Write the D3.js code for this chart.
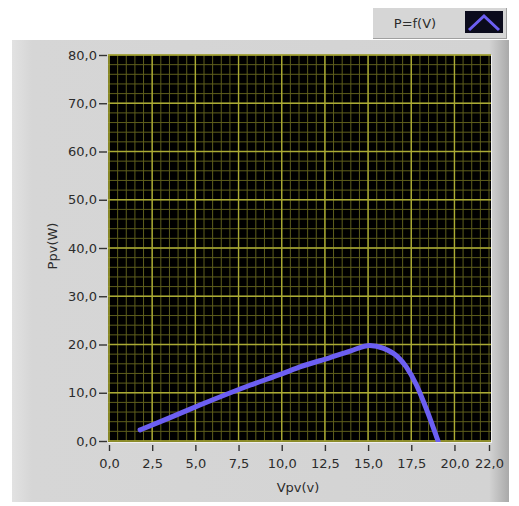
<!DOCTYPE html>
<html>
<head>
<meta charset="utf-8">
<script src="https://cdn.jsdelivr.net/npm/d3@7"></script>
<style>
  html, body { margin: 0; padding: 0; background: #ffffff; }
  svg { display: block; }
  text { font-family: "DejaVu Sans", Verdana, sans-serif; fill: #2c2c2c; }
</style>
</head>
<body>
<svg id="chart" width="519" height="506"></svg>
<script>
// PV panel power curve P = f(V)
const voltage = [1.8, 3.5, 5.3, 8.2, 10.0, 11.1, 12.8, 14.0, 15.1, 15.9, 16.7, 17.2, 17.8, 18.4, 19.05];
const power   = [2.3, 4.8, 7.5, 11.6, 13.9, 15.4, 17.3, 18.7, 19.8, 19.2, 17.5, 15.4, 11.6, 6.4, 0.0];

const xTicks = [0, 2.5, 5, 7.5, 10, 12.5, 15, 17.5, 20, 22];
const yTicks = [0, 10, 20, 30, 40, 50, 60, 70, 80];
const seriesName = "P=f(V)";
const xTitle = "Vpv(v)";
const yTitle = "Ppv(W)";

const svg = d3.select("#chart");
const defs = svg.append("defs");

// panel shading: light left edge, darker shadow on the right
const grad = defs.append("linearGradient").attr("id", "panelGrad")
  .attr("x1", "0").attr("x2", "1").attr("y1", "0").attr("y2", "0");
grad.append("stop").attr("offset", "0%").attr("stop-color", "#e2e2e2");
grad.append("stop").attr("offset", "4%").attr("stop-color", "#d6d6d6");
grad.append("stop").attr("offset", "96%").attr("stop-color", "#d3d3d3");
grad.append("stop").attr("offset", "100%").attr("stop-color", "#a9a9a9");

svg.append("rect").attr("x", 12).attr("y", 40).attr("width", 497).attr("height", 462)
  .attr("fill", "url(#panelGrad)");

// legend box
const lg = svg.append("g");
lg.append("rect").attr("x", 373).attr("y", 8).attr("width", 134).attr("height", 31)
  .attr("fill", "#d6d6d6");
lg.append("line").attr("x1", 373).attr("x2", 507).attr("y1", 38.5).attr("y2", 38.5)
  .attr("stroke", "#a0a0a0");
lg.append("line").attr("x1", 506.5).attr("x2", 506.5).attr("y1", 8).attr("y2", 39)
  .attr("stroke", "#a0a0a0");
lg.append("text").attr("x", 415).attr("y", 28).attr("text-anchor", "middle")
  .attr("font-size", 13).text(seriesName);
lg.append("rect").attr("x", 465).attr("y", 11).attr("width", 38).attr("height", 22)
  .attr("fill", "#0b0b1c");

const margin = { left: 109, right: 489, top: 55, bottom: 441 };
const x = d3.scaleLinear().domain([0, 22]).range([margin.left, margin.right]);
const y = d3.scaleLinear().domain([0, 80]).range([margin.bottom, margin.top]);

// legend swatch drawn as a small chevron of the series line
lg.append("path")
  .attr("d", d3.line()([[469, 30], [484, 16], [499, 30]]))
  .attr("fill", "none").attr("stroke", "#6c5ff2").attr("stroke-width", 3);

// plot background
svg.append("rect").attr("x", 108).attr("y", 55).attr("width", 383).attr("height", 387)
  .attr("fill", "#000000");

// minor grid
const gridG = svg.append("g");
const xMinor = d3.range(0, 22.001, 0.5);
const yMinor = d3.range(0, 80.001, 2);
gridG.selectAll("line.xm").data(xMinor).join("line")
  .attr("x1", d => x(d)).attr("x2", d => x(d))
  .attr("y1", margin.top).attr("y2", margin.bottom)
  .attr("stroke", "#5e5e1c").attr("stroke-width", 1);
gridG.selectAll("line.ym").data(yMinor).join("line")
  .attr("y1", d => y(d)).attr("y2", d => y(d))
  .attr("x1", margin.left - 1).attr("x2", margin.right + 2)
  .attr("stroke", "#5e5e1c").attr("stroke-width", 1);

// major grid
const xMajor = d3.range(0, 22.001, 2.5);
gridG.selectAll("line.xM").data(xMajor).join("line")
  .attr("x1", d => x(d)).attr("x2", d => x(d))
  .attr("y1", margin.top).attr("y2", margin.bottom)
  .attr("stroke", "#abab34").attr("stroke-width", 1.4);
gridG.selectAll("line.yM").data(yTicks).join("line")
  .attr("y1", d => y(d)).attr("y2", d => y(d))
  .attr("x1", margin.left - 1).attr("x2", margin.right + 2)
  .attr("stroke", "#abab34").attr("stroke-width", 1.4);

// inset frame edges
svg.append("line").attr("x1", 491.5).attr("x2", 491.5).attr("y1", 55).attr("y2", 443)
  .attr("stroke", "#f0f0f0");
svg.append("line").attr("x1", 108).attr("x2", 492).attr("y1", 442.5).attr("y2", 442.5)
  .attr("stroke", "#efefef");

// series line, clipped to the plot area
defs.append("clipPath").attr("id", "plotClip")
  .append("rect").attr("x", 108).attr("y", 55).attr("width", 383).attr("height", 387);
const pts = voltage.map((v, i) => [v, power[i]]);
svg.append("path").datum(pts)
  .attr("clip-path", "url(#plotClip)")
  .attr("d", d3.line().x(d => x(d[0])).y(d => y(d[1])).curve(d3.curveMonotoneX))
  .attr("fill", "none").attr("stroke", "#6c5ff2").attr("stroke-width", 5)
  .attr("stroke-linecap", "round").attr("stroke-linejoin", "round");

// axes with comma decimal separator
const locale = d3.formatLocale({ decimal: ",", thousands: ".", grouping: [3], currency: ["", ""] });
const fmt = locale.format(".1f");

const yAxis = svg.append("g").attr("transform", "translate(107,0)")
  .call(d3.axisLeft(y).tickValues(yTicks).tickFormat(fmt).tickSize(8).tickPadding(2));
yAxis.select(".domain").remove();
yAxis.selectAll("line").attr("stroke", "#333").attr("stroke-width", 1.4);
yAxis.selectAll("text").attr("font-size", 13).attr("fill", "#2c2c2c")
  .attr("font-family", "DejaVu Sans, Verdana, sans-serif");

const xAxis = svg.append("g").attr("transform", "translate(0,445)")
  .call(d3.axisBottom(x).tickValues(xTicks).tickFormat(fmt).tickSize(6).tickPadding(8));
xAxis.select(".domain").remove();
xAxis.selectAll("line").attr("stroke", "#333").attr("stroke-width", 1.4);
xAxis.selectAll("text").attr("font-size", 13).attr("fill", "#2c2c2c")
  .attr("font-family", "DejaVu Sans, Verdana, sans-serif");

// axis titles
svg.append("text").attr("x", 298).attr("y", 492).attr("text-anchor", "middle")
  .attr("font-size", 13).text(xTitle);
svg.append("text").attr("transform", "translate(57,246) rotate(-90)")
  .attr("text-anchor", "middle").attr("font-size", 13).text(yTitle);
</script>
</body>
</html>
